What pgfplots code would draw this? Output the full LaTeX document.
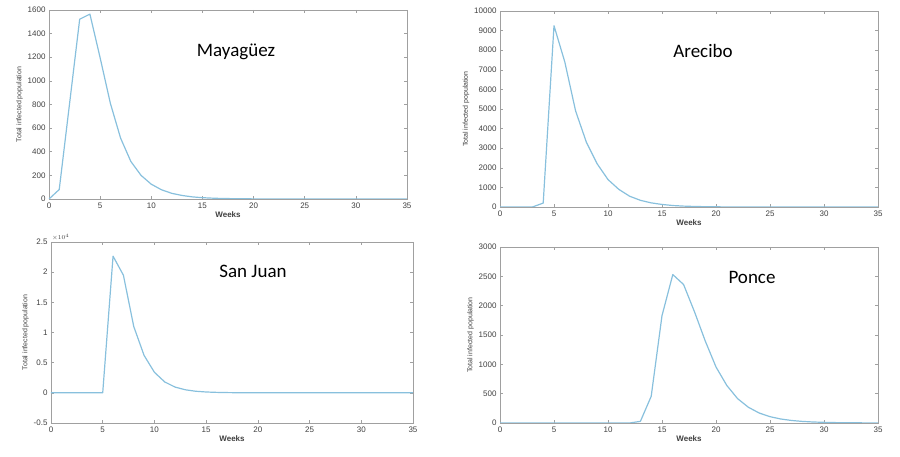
\documentclass[border=0pt]{standalone}
\usepackage{fontspec}
\setmainfont{Liberation Sans}
\newfontfamily\titlefont{Carlito}
\usepackage{pgfplots}
\pgfplotsset{compat=1.18}
\definecolor{curve}{HTML}{88C0DD}
\definecolor{frame}{HTML}{A0A0A0}
\definecolor{ticktext}{HTML}{404040}
\pgfplotsset{
  panel/.style={
    scale only axis, xmin=0, xmax=35, xtick={0,5,...,35},
    axis line style={frame}, tick style={frame, line width=0.5pt},
    major tick length=3pt, tick align=inside,
    ticklabel style={font=\fontsize{8}{9}\selectfont, text=ticktext},
    /pgf/number format/assume math mode=true,
    /pgf/number format/1000 sep={},
    xlabel={Weeks}, ylabel={Total infected population},
    xlabel style={font=\fontsize{8}{9}\selectfont\bfseries, text=ticktext, yshift=3pt},
    ylabel style={font=\fontsize{7}{8}\selectfont, text=ticktext, yshift=-2pt},
  },
  sim/.style={draw=curve, line width=1.2pt, mark=none, line join=round},
}
\newcommand{\place}[1]{{\titlefont\fontsize{19}{22}\selectfont #1}}
\begin{document}
\begin{tikzpicture}[x=1pt,y=1pt]
\path (0,0) rectangle (900,457);

% Mayaguez
\begin{axis}[panel, at={(49pt,258pt)}, width=358pt, height=189pt,
  ymin=0, ymax=1600, ytick={0,200,...,1600}, scaled y ticks=false]
\addplot[sim] coordinates {(0,0) (1,80) (2,800) (3,1522) (4,1565) (5,1195) (6,810) (7,515) (8,318) (9,200) (10,125) (11,78) (12,48) (13,30) (14,18) (15,11) (16,7) (17,4) (18,3) (19,2) (20,1) (21,1) (22,0.5) (23,0.3) (24,0.2) (25,0.1) (26,0) (27,0) (28,0) (29,0) (30,0) (31,0) (32,0) (33,0) (34,0) (35,0)};
\end{axis}

% Arecibo
\begin{axis}[panel, at={(500pt,250pt)}, width=378pt, height=196pt,
  ymin=0, ymax=10000, ytick={0,1000,...,10000}, scaled y ticks=false]
\addplot[sim] coordinates {(0,0) (1,0) (2,0) (3,0) (4,200) (5,9250) (6,7400) (7,4900) (8,3300) (9,2200) (10,1400) (11,900) (12,550) (13,340) (14,210) (15,130) (16,75) (17,45) (18,27) (19,16) (20,9) (21,5) (22,3) (23,2) (24,1) (25,0.5) (26,0) (27,0) (28,0) (29,0) (30,0) (31,0) (32,0) (33,0) (34,0) (35,0)};
\end{axis}

% San Juan
\begin{axis}[panel, at={(51pt,34pt)}, width=362pt, height=181pt,
  ymin=-5000, ymax=25000, ytick={-5000,0,5000,10000,15000,20000,25000},
  scaled y ticks=base 10:-4,
  ytick scale label code/.code={$\times 10^{4}$},
  every y tick scale label/.style={at={(rel axis cs:0,1)}, anchor=south west,
    inner sep=1pt, font=\fontsize{6}{7}\selectfont, text=ticktext}]
\addplot[sim] coordinates {(0,0) (1,0) (2,0) (3,0) (4,0) (5,0) (6,22650) (7,19500) (8,11000) (9,6200) (10,3400) (11,1800) (12,950) (13,500) (14,260) (15,140) (16,75) (17,40) (18,20) (19,10) (20,5) (21,3) (22,1) (23,0) (24,0) (25,0) (26,0) (27,0) (28,0) (29,0) (30,0) (31,0) (32,0) (33,0) (34,0) (35,0)};
\end{axis}

% Ponce
\begin{axis}[panel, at={(500pt,34pt)}, width=378pt, height=176pt,
  ymin=0, ymax=3000, ytick={0,500,...,3000}, scaled y ticks=false]
\addplot[sim] coordinates {(0,0) (1,0) (2,0) (3,0) (4,0) (5,0) (6,0) (7,0) (8,0) (9,0) (10,0) (11,0) (12,0) (13,28) (14,455) (15,1830) (16,2530) (17,2360) (18,1900) (19,1400) (20,955) (21,640) (22,415) (23,268) (24,170) (25,108) (26,68) (27,43) (28,27) (29,17) (30,11) (31,7) (32,4) (33,3) (34,2) (35,1)};
\end{axis}

\node[text=black] at (236,405) {\place{Mayagüez}};
\node[text=black] at (703,406) {\place{Arecibo}};
\node[text=black] at (253,186) {\place{San Juan}};
\node[text=black] at (752,180) {\place{Ponce}};
\end{tikzpicture}
\end{document}
